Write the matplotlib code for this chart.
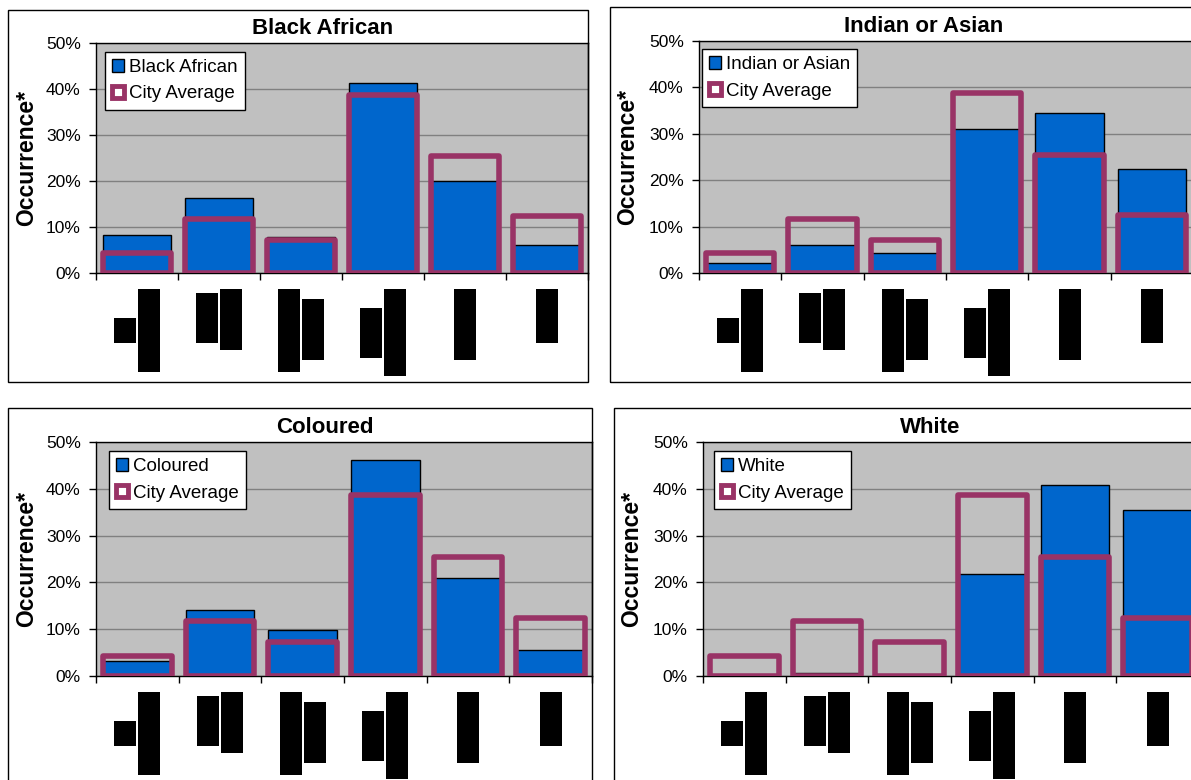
import matplotlib
matplotlib.use("Agg")
import matplotlib.pyplot as plt
import matplotlib.transforms as mtransforms
from matplotlib.patches import Patch, Rectangle
from matplotlib.ticker import FuncFormatter

plt.rcParams['font.family'] = ['Liberation Sans', 'DejaVu Sans']

# ---- data (percent occurrence per category) ----
groups = ["Black African", "Indian or Asian", "Coloured", "White"]
black_african = [8.2, 16.4, 7.8, 41.3, 19.9, 6.0]
indian_or_asian = [2.2, 6.0, 4.3, 31.1, 34.5, 22.4]
coloured = [3.3, 14.1, 9.8, 46.1, 20.9, 5.6]
white = [0.0, 0.7, 0.0, 21.8, 40.9, 35.4]
city_average = [4.3, 11.7, 7.2, 38.7, 25.4, 12.4]
y_ticks = [0, 10, 20, 30, 40, 50]

# category labels are printed as blacked-out rotated lines:
# (top, bottom) extent of each line, in pixels below the axis
tick_label_blocks = [
    [(45, 70), (16, 99)],
    [(20, 70), (16, 77)],
    [(16, 99), (26, 87)],
    [(35, 85), (16, 103)],
    [(16, 87)],
    [(16, 70)],
]

series = [black_african, indian_or_asian, coloured, white]

BLUE = "#0066CC"
MAROON = "#993366"
PLOT_BG = "#C0C0C0"
GRID = "#808080"

W, H = 1191, 780
fig = plt.figure(figsize=(W / 100, H / 100), dpi=100)
fig.patch.set_facecolor("white")

# panel layout in pixels: frame box, plot box, title centre, y-label x, legend corner
panels = [
    dict(frame=(8, 588, 10, 382), plot=(96, 588, 43, 273), title=(323, 28), ylab=27, leg=(105, 52)),
    dict(frame=(610, 1205, 7, 382), plot=(699, 1193, 41, 273), title=(924, 27), ylab=628, leg=(702, 49)),
    dict(frame=(8, 592, 408, 795), plot=(96, 592, 442, 676), title=(325, 427), ylab=27, leg=(109, 451)),
    dict(frame=(614, 1205, 408, 795), plot=(703, 1199, 442, 676), title=(930, 427), ylab=632, leg=(714, 451)),
]

x = list(range(len(city_average)))

for name, values, p in zip(groups, series, panels):
    fl, fr, ft, fb = p["frame"]
    fig.add_artist(Rectangle((fl / W, 1 - fb / H), (fr - fl) / W, (fb - ft) / H,
                             transform=fig.transFigure, fill=False,
                             edgecolor="black", linewidth=1.0))

    l, r, t, b = p["plot"]
    ax = fig.add_axes([l / W, 1 - b / H, (r - l) / W, (b - t) / H])
    ax.set_facecolor(PLOT_BG)

    ax.bar(x, values, width=0.83, color=BLUE, edgecolor="black", linewidth=1.0, zorder=2)
    ax.bar(x, city_average, width=0.83, fill=False, edgecolor=MAROON, linewidth=4.0,
           joinstyle="round", zorder=3)

    ax.set_xlim(-0.5, len(x) - 0.5)
    ax.set_ylim(0, 50)
    ax.set_yticks(y_ticks)
    ax.yaxis.set_major_formatter(FuncFormatter(lambda v, pos: f"{v:.0f}%"))
    ax.set_xticks([i - 0.5 for i in range(len(x) + 1)])
    ax.set_xticklabels([])
    ax.tick_params(axis="y", direction="out", length=5, width=1, pad=6, labelsize=12.5)
    ax.tick_params(axis="x", direction="out", length=5, width=1)
    ax.yaxis.grid(True, color=GRID, linewidth=1.0)
    ax.set_axisbelow(True)
    for s in ax.spines.values():
        s.set_color("black")
        s.set_linewidth(1.0)

    fig.text(p["title"][0] / W, 1 - p["title"][1] / H, name, ha="center", va="center",
             fontsize=16, fontweight="bold")
    fig.text(p["ylab"] / W, 1 - ((t + b) / 2) / H, "Occurrence*", rotation=90,
             ha="center", va="center", fontsize=16.5, fontweight="bold")

    handles = [Patch(facecolor=BLUE, edgecolor="black", linewidth=1.0, label=name),
               Patch(facecolor="white", edgecolor=MAROON, linewidth=3.5, label="City Average")]
    lx, ly = p["leg"]
    leg = ax.legend(handles=handles, loc="upper left",
                    bbox_to_anchor=((lx - l) / (r - l), (b - ly) / (b - t)),
                    borderaxespad=0, fontsize=13.5, frameon=True, fancybox=False,
                    edgecolor="black", framealpha=1, handlelength=0.65, handleheight=0.65,
                    handletextpad=0.25, labelspacing=0.5, borderpad=0.38)
    leg.get_frame().set_linewidth(1.0)

    # blacked-out category labels under each column
    cat_px = (r - l) / len(x)
    ax_h = b - t
    trans = mtransforms.blended_transform_factory(ax.transData, ax.transAxes)
    for i, lines in enumerate(tick_label_blocks):
        offsets = [-23, 1] if len(lines) == 2 else [-11]
        for (top, bot), off in zip(lines, offsets):
            ax.add_patch(Rectangle((i + off / cat_px, -bot / ax_h), 22 / cat_px,
                                   (bot - top) / ax_h, transform=trans,
                                   facecolor="black", edgecolor="none", clip_on=False))

fig.savefig("out.png", dpi=100)
